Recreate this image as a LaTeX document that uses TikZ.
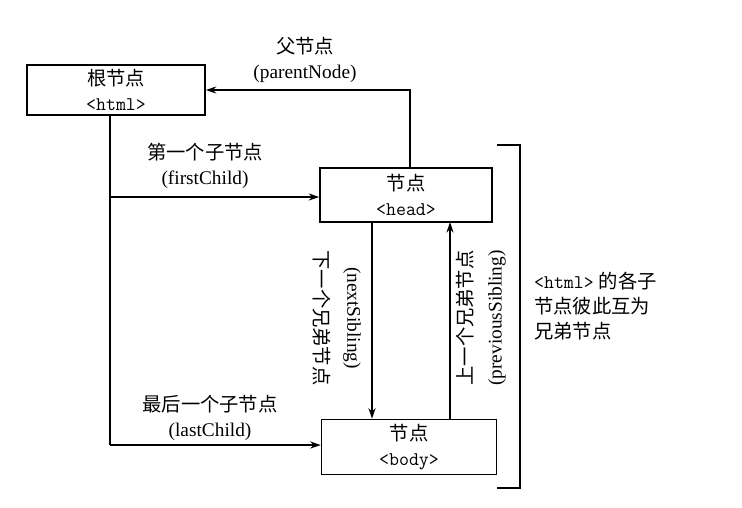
\documentclass[tikz,border=0pt]{standalone}
\usepackage{fontspec}
\setmainfont{Liberation Serif}
\newfontfamily\cjk{Noto Sans CJK SC}
\usetikzlibrary{arrows.meta}
\begin{document}
\begin{tikzpicture}[x=0.02cm,y=-0.02cm,
  box/.style={draw,line width=0.9pt,minimum width=#1,minimum height=1cm,align=center,inner sep=1pt,font=\fontsize{11}{14}\selectfont},
  lab/.style={font=\fontsize{11}{14}\selectfont,align=center,inner sep=1pt},
  arr/.style={line width=0.8pt,-{Stealth[length=6pt,width=4pt]}}]
\useasboundingbox (0,0) rectangle (742,507);
\node[box=3.56cm] (root) at (116,90) {{\cjk 根节点}\\\texttt{<html>}};
\node[box=3.44cm,minimum height=1.08cm] (head) at (406,195) {{\cjk 节点}\\\texttt{<head>}};
\node[box=3.5cm,minimum height=1.1cm] (body) at (409,447) {{\cjk 节点}\\\texttt{<body>}};
\coordinate (r1) at (110,115);
\coordinate (r2) at (110,197);
\coordinate (r3) at (110,445);
\coordinate (p1) at (410,90);
\draw[line width=0.8pt] (r1) -- (r3);
\draw[arr] (r2) -- (r2 -| head.west);
\draw[arr] (r3) -- (r3 -| body.west);
\draw[arr] (head.north -| p1) -- (p1) -- (p1 -| root.east);
\coordinate (n1) at (372,222);
\coordinate (q1) at (450,222);
\draw[arr] (n1) -- (n1 |- body.north);
\draw[arr] (q1 |- body.north) -- (q1);
\node[lab] (pl) at (305,60) {{\cjk 父节点}\\(parentNode)};
\node[lab] (fl) at (205,166) {{\cjk 第一个子节点}\\(firstChild)};
\node[lab] (ll) at (210,418) {{\cjk 最后一个子节点}\\(lastChild)};
\node[lab,rotate=-90] (nc) at (322,318) {\cjk 下一个兄弟节点};
\node[lab,rotate=-90] (ne) at (352,318) {(nextSibling)};
\node[lab,rotate=90] (pc) at (465,318) {\cjk 上一个兄弟节点};
\node[lab,rotate=90] (pe) at (497,318) {(previousSibling)};
\coordinate (b1) at (497,145);
\coordinate (b2) at (520,145);
\coordinate (b3) at (520,488);
\coordinate (b4) at (497,488);
\draw[line width=0.8pt] (b1) -- (b2) -- (b3) -- (b4);
\node[lab,anchor=west,align=left] (note) at (532,306) {\texttt{<html>} {\cjk 的各子}\\{\cjk 节点彼此互为}\\{\cjk 兄弟节点}};
\end{tikzpicture}
\end{document}
